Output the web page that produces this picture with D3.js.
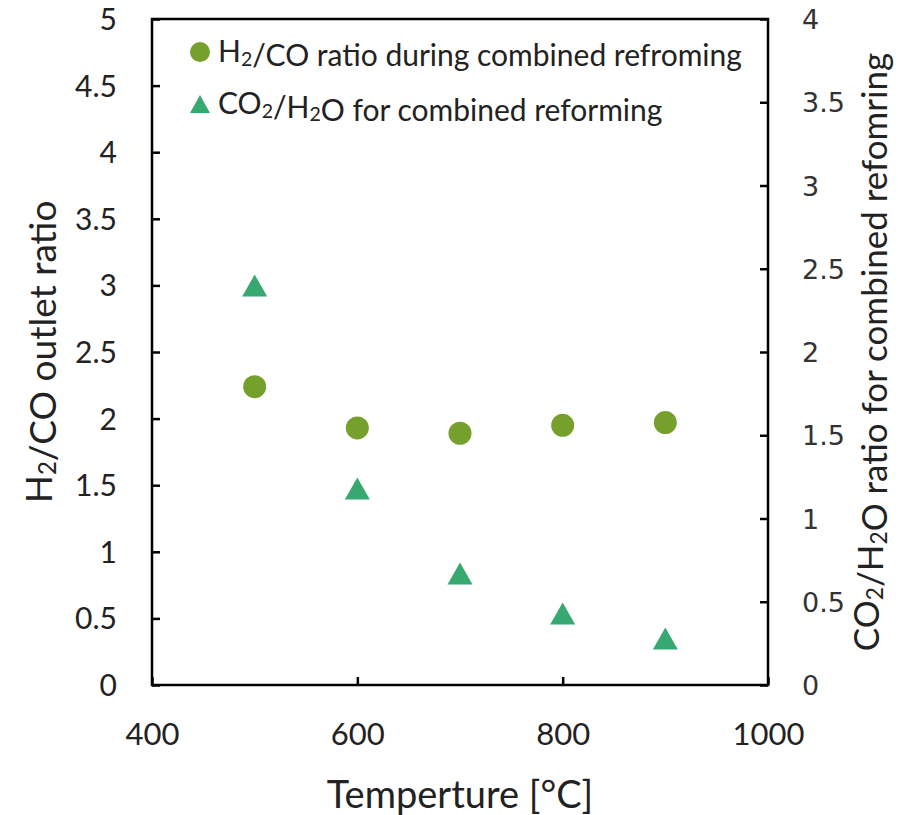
<!DOCTYPE html>
<html>
<head>
<meta charset="utf-8">
<script src="https://cdn.jsdelivr.net/npm/d3@7"></script>
<style>
  body { margin: 0; background: #fff; }
  svg text { font-family: Lato, "Open Sans", sans-serif; fill: #222; }
</style>
</head>
<body>
<div id="container"></div>
<script>
/* DATA */
const temps = [500, 600, 700, 800, 900];
const h2coRatio = [2.24, 1.93, 1.89, 1.95, 1.97];
const co2h2oRatio = [2.40, 1.18, 0.67, 0.43, 0.28];
const xTicks = [400, 600, 800, 1000];
const leftTicks = [0, 0.5, 1, 1.5, 2, 2.5, 3, 3.5, 4, 4.5, 5];
const rightTicks = [0, 0.5, 1, 1.5, 2, 2.5, 3, 3.5, 4];

/* CONSTANTS */
const width = 898, height = 815,
  margin = { top: 19, bottom: 130, left: 152, right: 130 };
const circleColor = "#76a02c", triColor = "#37a86f";

const svg = d3.select("#container")
  .append("svg")
  .attr("width", width)
  .attr("height", height);

const x = d3.scaleLinear().domain([400, 1000]).range([margin.left, width - margin.right]);
const yL = d3.scaleLinear().domain([0, 5]).range([height - margin.bottom, margin.top]);
const yR = d3.scaleLinear().domain([0, 4]).range([height - margin.bottom, margin.top]);

// triangle marker centred on its bounding box (like Excel)
const tri = (w, h) => `M0,${-h / 2}L${w / 2},${h / 2}L${-w / 2},${h / 2}Z`;

// AXES
const xAxis = svg.append("g")
  .attr("transform", `translate(0,${height - margin.bottom})`)
  .call(d3.axisBottom(x).tickValues(xTicks).tickFormat(d3.format("")).tickSizeInner(-8).tickSizeOuter(0).tickPadding(38));
xAxis.selectAll("text").style("font-size", "31px");

const leftAxis = svg.append("g")
  .attr("transform", `translate(${margin.left},0)`)
  .call(d3.axisLeft(yL).tickValues(leftTicks).tickFormat(d3.format("")).tickSizeInner(-8).tickSizeOuter(0).tickPadding(35));
leftAxis.selectAll("text").style("font-size", "30px").attr("dy", "0.35em");

const rightAxis = svg.append("g")
  .attr("transform", `translate(${width - margin.right},0)`)
  .call(d3.axisRight(yR).tickValues(rightTicks).tickFormat(d3.format("")).tickSizeInner(-8).tickSizeOuter(0).tickPadding(34));
rightAxis.selectAll("text")
  .style("font-size", "27px")
  .style("font-family", "'DejaVu Sans', sans-serif")
  .style("fill", "#333")
  .attr("dy", "0.36em");

// frame
svg.append("rect")
  .attr("x", margin.left).attr("y", margin.top)
  .attr("width", width - margin.left - margin.right)
  .attr("height", height - margin.top - margin.bottom)
  .attr("fill", "none").attr("stroke", "#000").attr("stroke-width", 2.5);

svg.selectAll(".domain").remove();
svg.selectAll(".tick line").attr("stroke", "#000").attr("stroke-width", 2.5);

// POINTS
svg.selectAll(".h2co")
  .data(temps)
  .join("circle")
  .attr("class", "h2co")
  .attr("cx", d => x(d))
  .attr("cy", (d, i) => yL(h2coRatio[i]))
  .attr("r", 11.5)
  .attr("fill", circleColor);

svg.selectAll(".co2h2o")
  .data(temps)
  .join("path")
  .attr("class", "co2h2o")
  .attr("d", tri(25, 22))
  .attr("transform", (d, i) => `translate(${x(d)},${yR(co2h2oRatio[i])})`)
  .attr("fill", triColor);

// AXIS TITLES (with subscripts)
function subText(sel, parts) {
  parts.forEach(p => {
    if (p.sub) {
      sel.append("tspan").attr("font-size", "0.65em").attr("dy", "0.18em").text(p.sub);
      sel.append("tspan").attr("dy", "-0.117em").text("");
    } else {
      sel.append("tspan").text(p.t);
    }
  });
}

svg.append("text")
  .attr("x", (margin.left + width - margin.right) / 2)
  .attr("y", 808)
  .attr("text-anchor", "middle")
  .style("font-size", "38px")
  .text("Temperture [°C]");

const lt = svg.append("text")
  .attr("transform", "translate(52,352) rotate(-90)")
  .attr("text-anchor", "middle")
  .style("font-size", "37px");
subText(lt, [{ t: "H" }, { sub: "2" }, { t: "/CO outlet ratio" }]);

const rt = svg.append("text")
  .attr("transform", "translate(879,352) rotate(-90)")
  .attr("text-anchor", "middle")
  .style("font-size", "35px");
subText(rt, [{ t: "CO" }, { sub: "2" }, { t: "/H" }, { sub: "2" }, { t: "O ratio for combined refomring" }]);

// LEGEND
const legendItems = [
  { parts: [{ t: "H" }, { sub: "2" }, { t: "/CO ratio during combined refroming" }], shape: "circle" },
  { parts: [{ t: "CO" }, { sub: "2" }, { t: "/H" }, { sub: "2" }, { t: "O for combined reforming" }], shape: "tri" }
];
const legend = svg.append("g").attr("transform", "translate(200,52)");
legendItems.forEach((item, i) => {
  const g = legend.append("g").attr("transform", `translate(0,${i * 52})`);
  if (item.shape === "circle") {
    g.append("circle").attr("r", 10).attr("fill", circleColor);
  } else {
    g.append("path").attr("d", tri(20, 18)).attr("fill", triColor);
  }
  const t = g.append("text").attr("x", 18).attr("y", 10).style("font-size", "30px");
  subText(t, item.parts);
});
</script>
</body>
</html>
